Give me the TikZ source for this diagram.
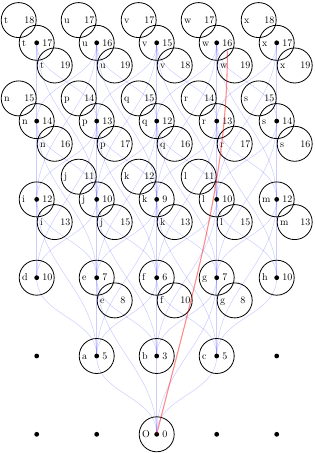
\documentclass[tikz,border=0pt]{standalone}
\usetikzlibrary{calc}
\tikzset{
  ring/.style={circle, draw=black, line width=0.8pt, minimum size=35pt, inner sep=0pt},
  lab/.style={anchor=base west, inner sep=0pt, font=\fontsize{10}{12}\selectfont},
  dot/.style={circle, fill=black, inner sep=0pt, minimum size=4.8pt},
  edge/.style={draw=blue, opacity=0.2, line width=0.5pt},
  hl/.style={draw=red, opacity=0.45, line width=1.1pt},
}
\newcommand\Ring[4]{%
  \node[ring] (#1) at (#2) {};
  \node[lab] (#1-l) at ($(#1)+(-14.7,-3.3)$) {#3};
  \node[lab] (#1-n) at ($(#1)+(5.5,-3.3)$) {#4};
}
\newcommand\Main[3]{% name, letter, number
  \Ring{#1-m}{#1}{#2}{#3}}
\newcommand\UL[2]{% name, number
  \coordinate (#1-ulc) at ($(#1)+(-18,22.7)$);
  \Ring{#1-ul}{#1-ulc}{#1}{#2}}
\newcommand\LR[2]{% name, number
  \coordinate (#1-lrc) at ($(#1)+(18,-22.7)$);
  \Ring{#1-lr}{#1-lrc}{#1}{#2}}
\begin{document}
\begin{tikzpicture}[x=1pt,y=1pt]
\useasboundingbox (0,0) rectangle (314,453);
% vertex coordinates
\def\cx#1{36.7+60*#1}
\def\ry#1{18.7+78.3*#1}
\coordinate (O) at ({\cx2},{\ry0});
\foreach \n/\c in {a/1,b/2,c/3}{\coordinate (\n) at ({\cx\c},{\ry1});}
\foreach \n/\c in {d/0,e/1,f/2,g/3,h/4}{\coordinate (\n) at ({\cx\c},{\ry2});}
\foreach \n/\c in {i/0,j/1,k/2,l/3,m/4}{\coordinate (\n) at ({\cx\c},{\ry3});}
\foreach \n/\c in {n/0,p/1,q/2,r/3,s/4}{\coordinate (\n) at ({\cx\c},{\ry4});}
\foreach \n/\c in {t/0,u/1,v/2,w/3,x/4}{\coordinate (\n) at ({\cx\c},{\ry5});}
% edges
\foreach \u/\v in {a/O,b/O,c/O,
  d/a,e/a,e/b,f/a,f/b,f/c,g/b,g/c,h/c,
  i/d,i/e,j/d,j/e,j/f,k/e,k/f,k/g,l/f,l/g,l/h,m/g,m/h,
  n/i,n/j,p/i,p/j,p/k,q/j,q/k,q/l,r/k,r/l,r/m,s/l,s/m,
  t/n,t/p,u/n,u/p,u/q,v/p,v/q,v/r,w/q,w/r,w/s,x/r,x/s,
  e/O,g/O,
  i/a,j/b,k/a,k/c,l/b,m/c,
  n/e,p/d,p/f,q/e,q/g,r/f,r/h,s/g,
  t/j,u/i,u/k,v/j,v/l,w/k,w/m,x/l}{
  \draw[edge] (\u) to[out=-90,in=90] (\v);
}
% rings
\Main{O}{O}{0}
\Main{a}{a}{5} \Main{b}{b}{3} \Main{c}{c}{5}
\Main{d}{d}{10} \Main{e}{e}{7} \Main{f}{f}{6} \Main{g}{g}{7} \Main{h}{h}{10}
\LR{e}{8} \LR{f}{10} \LR{g}{8}
\Main{i}{i}{12} \Main{j}{j}{10} \Main{k}{k}{9} \Main{l}{l}{10} \Main{m}{m}{12}
\LR{i}{13} \UL{j}{11} \LR{j}{15} \UL{k}{12} \LR{k}{13} \UL{l}{11} \LR{l}{15} \LR{m}{13}
\Main{n}{n}{14} \Main{p}{p}{13} \Main{q}{q}{12} \Main{r}{r}{13} \Main{s}{s}{14}
\UL{n}{15} \LR{n}{16} \UL{p}{14} \LR{p}{17} \UL{q}{15} \LR{q}{16}
\UL{r}{14} \LR{r}{17} \UL{s}{15} \LR{s}{16}
\Main{t}{t}{17} \Main{u}{u}{16} \Main{v}{v}{15} \Main{w}{w}{16} \Main{x}{x}{17}
\UL{t}{18} \LR{t}{19} \UL{u}{17} \LR{u}{19} \UL{v}{17} \LR{v}{18}
\UL{w}{17} \LR{w}{19} \UL{x}{18} \LR{x}{19}
% dots
\foreach \n in {O,a,b,c,d,e,f,g,h,i,j,k,l,m,n,p,q,r,s,t,u,v,w,x}{
  \node[dot] (\n-d) at (\n) {};
}
\foreach \c/\r in {0/0,1/0,3/0,4/0,0/1,4/1}{
  \node[dot] (z\c\r) at ({\cx\c},{\ry\r}) {};
}
% highlighted path
\coordinate (redend) at ($(w-m-n.south)+(0,-4.7)$);
\draw[hl] (O) .. controls +(36.5,145.5) and +(0,-130) .. (redend);
\end{tikzpicture}
\end{document}
